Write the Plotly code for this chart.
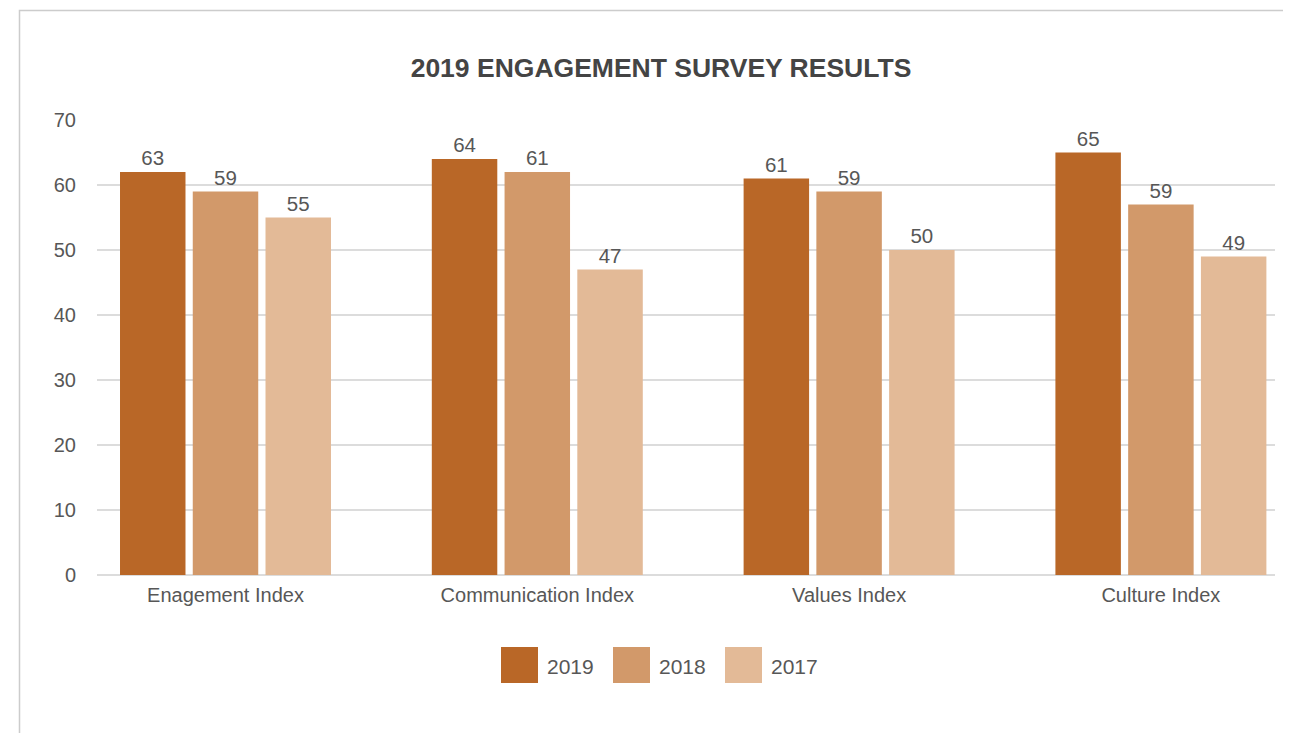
import plotly.graph_objects as go

categories = ["Enagement Index", "Communication Index", "Values Index", "Culture Index"]
series_names = ["2019", "2018", "2017"]
values_2019 = [62, 64, 61, 65]
values_2018 = [59, 62, 59, 57]
values_2017 = [55, 47, 50, 49]
labels_2019 = ["63", "64", "61", "65"]
labels_2018 = ["59", "61", "59", "59"]
labels_2017 = ["55", "47", "50", "49"]
y_ticks = [0, 10, 20, 30, 40, 50, 60, 70]

colors = ["#B96727", "#D2996A", "#E3BA97"]
FONT = "Liberation Sans, Arial, Helvetica, sans-serif"
TXT = "#575757"

# page offset (body margin) of 8px
OFF = 8
PAGE_W, PAGE_H = 1291, 733
W, H = PAGE_W - OFF, PAGE_H - OFF
PLOT_L, PLOT_R, PLOT_T, PLOT_B = 97, 1275, 120, 575  # page pixels
ML, MT = PLOT_L - OFF, PLOT_T - OFF
MR, MB = W - (PLOT_R - OFF), H - (PLOT_B - OFF)
PW, PH = PLOT_R - PLOT_L, PLOT_B - PLOT_T

def px_x(x):
    return (x - PLOT_L) / PW

def px_y(y):
    return (PLOT_B - y) / PH

fig = go.Figure()
for name, vals, labs, col in zip(series_names,
                                 [values_2019, values_2018, values_2017],
                                 [labels_2019, labels_2018, labels_2017],
                                 colors):
    fig.add_trace(go.Bar(
        x=list(range(len(categories))), y=vals, name=name,
        marker=dict(color=col, line=dict(width=0)),
        text=labs, textposition="outside", cliponaxis=False,
        textfont=dict(family=FONT, size=20.5, color=TXT),
        showlegend=False,
    ))

shapes = [dict(type="rect", xref="paper", yref="paper",
               x0=px_x(19.5), x1=px_x(1400), y0=px_y(800), y1=px_y(10.5),
               line=dict(color="#cccccc", width=1.5), fillcolor="rgba(0,0,0,0)", layer="below")]
annotations = []
for i, (name, col) in enumerate(zip(series_names, colors)):
    x0 = 501 + i * 112
    shapes.append(dict(type="rect", xref="paper", yref="paper",
                       x0=px_x(x0), x1=px_x(x0 + 37), y0=px_y(683), y1=px_y(647),
                       line=dict(width=0), fillcolor=col))
    annotations.append(dict(xref="paper", yref="paper", x=px_x(x0 + 44), y=px_y(666),
                            xanchor="left", yanchor="middle", showarrow=False, text=name,
                            font=dict(family=FONT, size=21, color=TXT)))

x_center0, x_step = 225.5, 311.8
fig.update_layout(
    width=W, height=H,
    margin=dict(l=ML, r=MR, t=MT, b=MB, pad=0),
    paper_bgcolor="white", plot_bgcolor="white",
    barmode="group", bargap=0.30, bargroupgap=0.10,
    title=dict(text="<b>2019 ENGAGEMENT SURVEY RESULTS</b>", x=px_x(661), xref="paper",
               xanchor="center", y=1 - (68 - OFF) / H, yanchor="middle",
               font=dict(family=FONT, size=26.5, color="#444444")),
    xaxis=dict(tickmode="array", tickvals=list(range(len(categories))), ticktext=categories,
               range=[(PLOT_L - x_center0) / x_step, (PLOT_R - x_center0) / x_step],
               showgrid=False, zeroline=False, showline=False,
               ticks="outside", ticklen=2, tickcolor="rgba(0,0,0,0)",
               tickfont=dict(family=FONT, size=20, color=TXT)),
    yaxis=dict(range=[0, 70], tickvals=y_ticks, showgrid=True, gridcolor="#dcdcdc", gridwidth=2,
               zeroline=True, zerolinecolor="#dcdcdc", zerolinewidth=2, showline=False,
               ticks="outside", ticklen=16, tickcolor="rgba(0,0,0,0)",
               tickfont=dict(family=FONT, size=20, color=TXT)),
    shapes=shapes, annotations=annotations,
)

fig.write_html("out.html")
